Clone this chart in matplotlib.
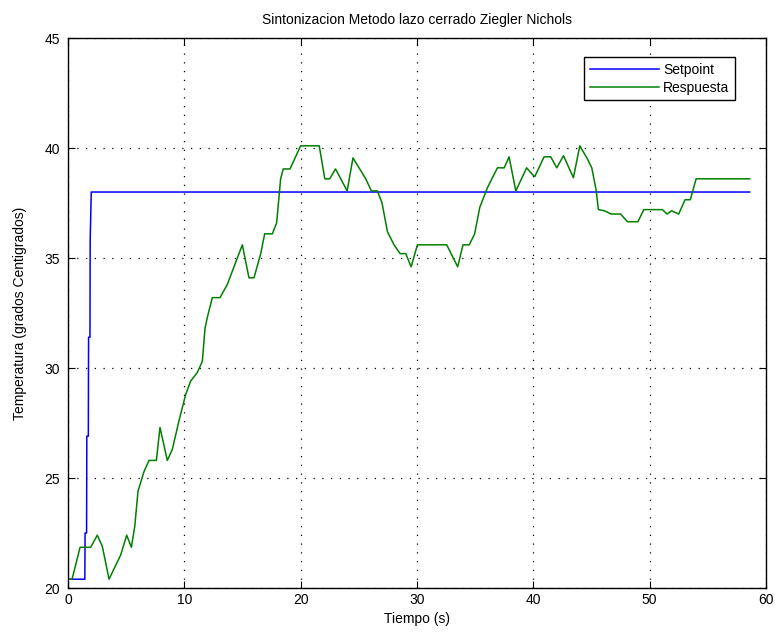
import matplotlib
matplotlib.use("Agg")
import matplotlib.pyplot as plt

# setpoint (s, degC)
t_set = [0, 1.45, 1.47, 1.6, 1.62, 1.75, 1.77, 1.89, 1.91, 2.0, 58.6]
v_set = [20.4, 20.4, 22.5, 22.5, 26.9, 26.9, 31.4, 31.4, 35.8, 38.0, 38.0]

# measured response
t_resp = [0.1, 0.35, 1.04, 1.95, 2.52, 2.95, 3.53, 4.53, 5.05, 5.45, 5.74, 6.02,
          6.54, 6.97, 7.6, 7.91, 8.54, 8.97, 9.54, 10.12, 10.54, 11.12, 11.55,
          11.78, 11.98, 12.41, 13.07, 13.7, 14.27, 14.99, 15.56, 15.99, 16.57,
          16.91, 17.57, 17.94, 18.28, 18.51, 19.09, 20.0, 21.6, 22.08, 22.5,
          23.0, 24.0, 24.5, 25.6, 26.08, 26.6, 27.0, 27.46, 28.03, 28.55, 29.04,
          29.5, 30.04, 32.56, 33.5, 33.96, 34.5, 34.96, 35.4, 36.06, 36.92, 37.5,
          37.92, 38.5, 39.43, 39.92, 40.13, 40.93, 41.5, 42.02, 42.6, 43.45, 44.0,
          44.66, 45.03, 45.4, 45.6, 46.1, 46.7, 47.5, 48.1, 49.0, 49.5, 51.1,
          51.5, 51.9, 52.5, 53.05, 53.5, 54.0, 58.6]
v_resp = [20.4, 20.4, 21.85, 21.85, 22.4, 21.9, 20.4, 21.5, 22.4, 21.85, 22.8, 24.4,
          25.3, 25.8, 25.8, 27.3, 25.8, 26.3, 27.6, 28.8, 29.4, 29.8, 30.3,
          31.8, 32.3, 33.2, 33.2, 33.8, 34.6, 35.6, 34.1, 34.1, 35.2,
          36.1, 36.1, 36.6, 38.6, 39.05, 39.05, 40.1, 40.1, 38.6, 38.6,
          39.05, 38.05, 39.55, 38.6, 38.05, 38.05, 37.5, 36.2, 35.6, 35.2, 35.2,
          34.6, 35.6, 35.6, 34.6, 35.6, 35.6, 36.1, 37.3, 38.2, 39.1, 39.1,
          39.6, 38.05, 39.1, 38.8, 38.7, 39.6, 39.6, 39.1, 39.65, 38.65, 40.1,
          39.5, 39.1, 38.1, 37.2, 37.15, 37.0, 37.0, 36.65, 36.65, 37.2, 37.2,
          37.0, 37.15, 37.0, 37.65, 37.65, 38.6, 38.6]

plt.rcParams['font.family'] = ['Liberation Sans Narrow', 'Liberation Sans', 'DejaVu Sans']

fig = plt.figure(figsize=(7.76, 6.37), dpi=100)
ax = fig.add_axes([0.0876, 0.0769, 0.8994, 0.8634])

ax.plot(t_set, v_set, color=(0, 0, 1), lw=1.1, label="Setpoint")
ax.plot(t_resp, v_resp, color=(0, 0.5, 0), lw=1.1, label="Respuesta")

ax.set_xlim(0, 60)
ax.set_ylim(20, 45)
ax.set_xticks([0, 10, 20, 30, 40, 50, 60])
ax.set_yticks([20, 25, 30, 35, 40, 45])
ax.grid(True, color='black', linestyle=(0, (1, 6)), lw=0.9)
ax.tick_params(direction='in', top=True, right=True, labelsize=10, length=5)
ax.tick_params(axis='y', pad=6)
for s in ax.spines.values():
    s.set_linewidth(1.0)

ax.set_title("Sintonizacion Metodo lazo cerrado Ziegler Nichols", fontsize=10, pad=10)
ax.set_xlabel("Tiempo (s)", fontsize=10)
ax.set_ylabel("Temperatura (grados Centigrados)", fontsize=10, labelpad=12)

leg = ax.legend(loc='upper right', bbox_to_anchor=(0.9556, 0.9655), borderaxespad=0,
                fancybox=False, edgecolor='black', fontsize=10, framealpha=1,
                handlelength=5, handletextpad=0.3, borderpad=0.4, labelspacing=0.3)
leg.get_frame().set_linewidth(1.0)

fig.savefig("out.png", dpi=100)
